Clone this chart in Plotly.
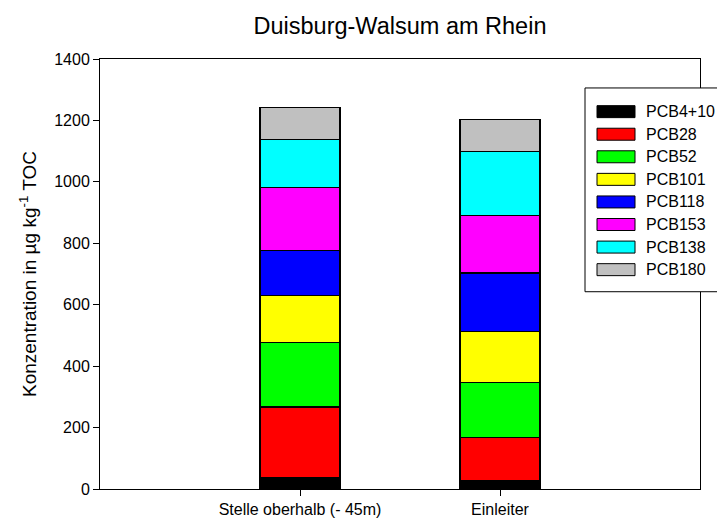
import plotly.graph_objects as go

# sites on the x axis
sites = ["Stelle oberhalb (- 45m)", "Einleiter"]

# congeners, bottom to top of each stack
congeners = ["PCB4+10", "PCB28", "PCB52", "PCB101", "PCB118", "PCB153", "PCB138", "PCB180"]
colors = ["#000000", "#ff0000", "#00ff00", "#ffff00", "#0000ff", "#ff00ff", "#00ffff", "#c0c0c0"]

# concentration in µg/kg TOC, one value per site
oberhalb = [36, 231, 209, 155, 146, 205, 157, 104]
einleiter = [28, 140, 178, 168, 189, 188, 209, 103]

FONT = "Arial, Liberation Sans, sans-serif"

# the page puts the figure 8px in from the corner, so size and place it for that
OFF = 8
FW, FH = 725 - OFF, 522 - OFF
L, T = 100 - OFF, 59 - OFF     # plot left / top inside the figure
W, H = 600, 430.5              # plot size in px

fig = go.Figure()
for i, name in enumerate(congeners):
    fig.add_trace(go.Bar(
        x=sites,
        y=[oberhalb[i], einleiter[i]],
        name=name,
        width=0.4,
        marker=dict(color=colors[i], line=dict(color="#000000", width=1.2)),
        showlegend=False,
    ))


def px_x(v):
    # screen px -> paper x
    return (v - OFF - L) / W


def px_y(v):
    # screen px -> paper y
    return (T + H - (v - OFF)) / H


# hand-made legend box so the swatches are wide like in the original
fig.add_shape(type="rect", xref="paper", yref="paper",
              x0=px_x(585), x1=px_x(722), y0=px_y(292), y1=px_y(88),
              fillcolor="white", line=dict(color="black", width=1), layer="above")
for i, name in enumerate(congeners):
    yc = 111.7 + i * 22.6
    fig.add_shape(type="rect", xref="paper", yref="paper",
                  x0=px_x(597), x1=px_x(635), y0=px_y(yc + 6), y1=px_y(yc - 6),
                  fillcolor=colors[i], line=dict(color="black", width=1), layer="above")
    fig.add_annotation(text=name, xref="paper", yref="paper",
                       x=px_x(644), y=px_y(yc), xanchor="left", yanchor="middle",
                       showarrow=False, font=dict(family=FONT, size=16, color="black"))

# y axis title as annotation to pin it where the original has it
fig.add_annotation(text="Konzentration in µg kg<sup>-1</sup> TOC", xref="paper", yref="paper",
                   x=px_x(28), y=0.5, xanchor="center", yanchor="middle", textangle=-90,
                   showarrow=False, font=dict(family=FONT, size=19, color="black"))

fig.update_layout(
    barmode="stack",
    width=FW, height=FH,
    margin=dict(l=L, r=FW - L - W, t=T, b=FH - T - H, autoexpand=False),
    plot_bgcolor="white", paper_bgcolor="white",
    font=dict(family=FONT, size=16, color="black"),
    title=dict(text="Duisburg-Walsum am Rhein", x=0.5, xref="paper", xanchor="center",
               y=1 - (26 - OFF) / FH, yanchor="middle", font=dict(size=23.5)),
)
fig.update_xaxes(
    type="category", range=[-1, 2], automargin=False,
    showline=True, linecolor="black", linewidth=1, mirror=True,
    ticks="outside", ticklen=6, tickcolor="black", showgrid=False,
    tickfont=dict(size=16),
)
fig.update_yaxes(
    range=[0, 1400], dtick=200, automargin=False,
    showline=True, linecolor="black", linewidth=1, mirror=True,
    ticks="outside", ticklen=6, tickcolor="black", showgrid=False, zeroline=False,
    tickfont=dict(size=16),
)

fig.write_html("out.html")
